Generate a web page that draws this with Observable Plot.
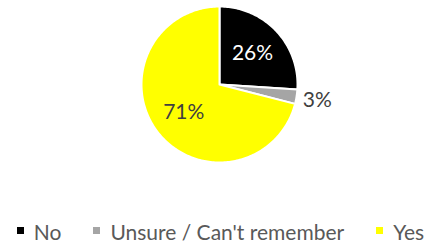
<!DOCTYPE html>
<html><head><meta charset="utf-8">
<script src="https://cdn.jsdelivr.net/npm/d3@7"></script>
<script src="https://cdn.jsdelivr.net/npm/@observablehq/plot@0.6"></script>
<style>
body{margin:0;background:#fff;font-family:Lato,"Open Sans",sans-serif;}
#chart{width:441px;}
.legend{display:flex;justify-content:center;align-items:center;font-size:21px;color:#595959;height:30px;margin-top:41px;white-space:nowrap;}
.legend .it{display:flex;align-items:center;margin:0 16px;flex-shrink:0;}
.legend .sw{width:7px;height:7px;margin-right:10px;position:relative;top:-1px;}
</style></head>
<body><div id="chart"></div>
<script>
const categories = ["No", "Unsure / Can't remember", "Yes"];
const values = [26, 3, 71];
const labels = ["26%", "3%", "71%"];
const colors = ["#000000", "#a5a5a5", "#ffff00"];
const labelColors = ["#ffffff", "#404040", "#404040"];

const total = d3.sum(values);
const pts = [], lab = [];
let acc = 0;
values.forEach((v, i) => {
  const a0 = acc / total * 2 * Math.PI, a1 = (acc + v) / total * 2 * Math.PI;
  acc += v;
  pts.push({cat: categories[i], x: 0, y: 0});
  const n = Math.max(4, Math.ceil((a1 - a0) / 0.02));
  for (let k = 0; k <= n; k++) {
    const a = a0 + (a1 - a0) * k / n;
    pts.push({cat: categories[i], x: Math.sin(a), y: Math.cos(a)});
  }
  const m = (a0 + a1) / 2;
  const r = v < 10 ? 1.27 : 0.58;
  lab.push({cat: categories[i], text: labels[i], x: r * Math.sin(m), y: r * Math.cos(m), c: labelColors[i]});
});

const plot = Plot.plot({
  width: 441, height: 175,
  x: {domain: [-1, 1], range: [141, 297], axis: null},
  y: {domain: [-1, 1], range: [162, 6], axis: null},
  color: {domain: categories, range: colors},
  marks: [
    Plot.line(pts, {x: "x", y: "y", z: "cat", fill: "cat", stroke: "#fff", strokeWidth: 2, curve: "linear-closed"}),
    Plot.text(lab, {x: "x", y: "y", text: "text", fill: d => d.c, fontSize: 21, fontFamily: "Lato, 'Open Sans', sans-serif"})
  ]
});
document.getElementById("chart").appendChild(plot);

const leg = document.createElement("div");
leg.className = "legend";
categories.forEach((c, i) => {
  const it = document.createElement("div"); it.className = "it";
  const sw = document.createElement("div"); sw.className = "sw"; sw.style.background = colors[i];
  const tx = document.createElement("span"); tx.textContent = c;
  it.appendChild(sw); it.appendChild(tx); leg.appendChild(it);
});
document.getElementById("chart").appendChild(leg);
</script></body></html>
